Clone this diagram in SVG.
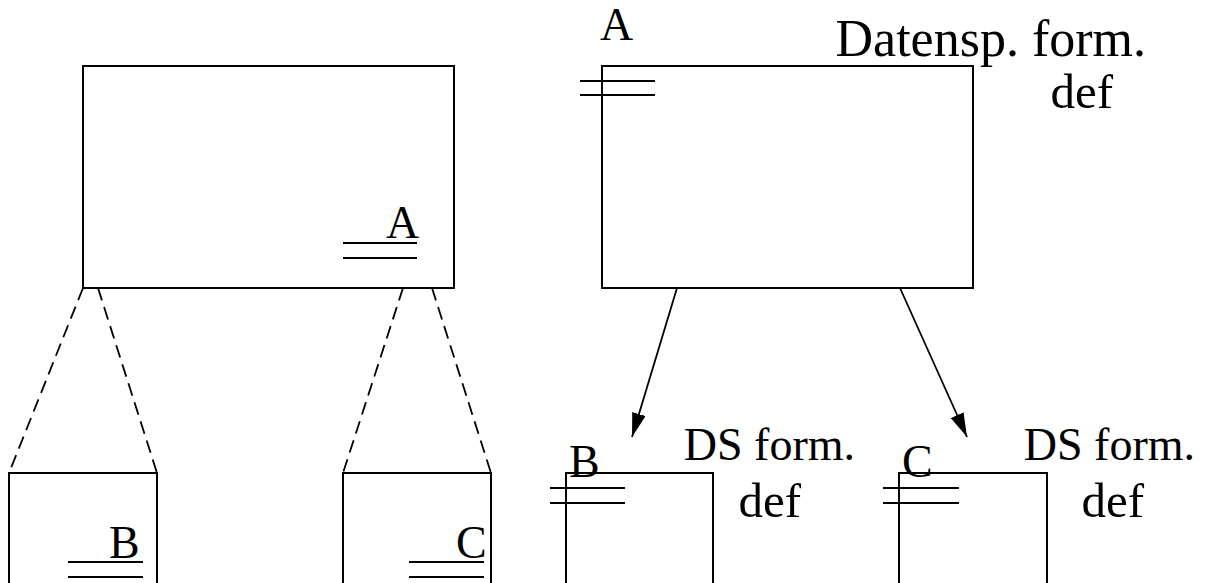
<svg xmlns="http://www.w3.org/2000/svg" width="1213" height="583" viewBox="0 0 1213 583">
<defs>
<style>
.box{fill:none;stroke:#000;stroke-width:2}
.ln{stroke:#000;stroke-width:2}
.dash{stroke:#000;stroke-width:1.8;stroke-dasharray:13 7;fill:none}
.arr{stroke:#000;stroke-width:1.8;fill:none}
.t{font-family:"Liberation Serif","Times New Roman",serif;font-size:46px;fill:#000}
.big{font-size:52px}
.d{font-size:49px}
</style>
<marker id="ah" viewBox="0 0 24 14" refX="24" refY="7" markerWidth="24" markerHeight="14" markerUnits="userSpaceOnUse" orient="auto">
<path d="M0,0 L24,7 L0,14 Z" fill="#000"/>
</marker>
</defs>
<rect width="1213" height="583" fill="#fff"/>
<g id="connectors">
<line class="dash" x1="83" y1="288" x2="9" y2="473"/>
<line class="dash" x1="98" y1="288" x2="157" y2="473"/>
<line class="dash" x1="403" y1="288" x2="343" y2="473"/>
<line class="dash" x1="432" y1="288" x2="491" y2="473"/>
<line class="arr" x1="677" y1="288" x2="632" y2="437" marker-end="url(#ah)"/>
<line class="arr" x1="900" y1="288" x2="967" y2="437" marker-end="url(#ah)"/>
</g>
<g id="nodeA-left">
<rect class="box" x="83" y="66" width="371" height="222"/>
<line class="ln" x1="343" y1="243" x2="417" y2="243"/>
<line class="ln" x1="343" y1="258" x2="417" y2="258"/>
<text class="t" x="386" y="238">A</text>
</g>
<g id="nodeB-left">
<path class="box" d="M9,583 V473 H157 V583"/>
<line class="ln" x1="68" y1="562" x2="143" y2="562"/>
<line class="ln" x1="68" y1="577" x2="143" y2="577"/>
<text class="t" x="109" y="558">B</text>
</g>
<g id="nodeC-left">
<path class="box" d="M343,583 V473 H491 V583"/>
<line class="ln" x1="409" y1="562" x2="484" y2="562"/>
<line class="ln" x1="409" y1="577" x2="484" y2="577"/>
<text class="t" x="456" y="558">C</text>
</g>
<g id="nodeA-right">
<rect class="box" x="602" y="66" width="371" height="222"/>
<line class="ln" x1="580" y1="81" x2="655" y2="81"/>
<line class="ln" x1="580" y1="95" x2="655" y2="95"/>
<text class="t" x="600" y="40">A</text>
<text class="t big" x="1146" y="56" text-anchor="end">Datensp. form.</text>
<text class="t d" x="1113" y="108" text-anchor="end">def</text>
</g>
<g id="nodeB-right">
<path class="box" d="M566,583 V473 H713 V583"/>
<line class="ln" x1="550" y1="488" x2="625" y2="488"/>
<line class="ln" x1="550" y1="503" x2="625" y2="503"/>
<text class="t" x="569" y="477">B</text>
<text class="t" x="855" y="460" text-anchor="end">DS form.</text>
<text class="t d" x="801" y="517" text-anchor="end">def</text>
</g>
<g id="nodeC-right">
<path class="box" d="M899,583 V473 H1047 V583"/>
<line class="ln" x1="883" y1="488" x2="959" y2="488"/>
<line class="ln" x1="883" y1="503" x2="959" y2="503"/>
<text class="t" x="902" y="477">C</text>
<text class="t" x="1195" y="460" text-anchor="end">DS form.</text>
<text class="t d" x="1144" y="517" text-anchor="end">def</text>
</g>
</svg>
